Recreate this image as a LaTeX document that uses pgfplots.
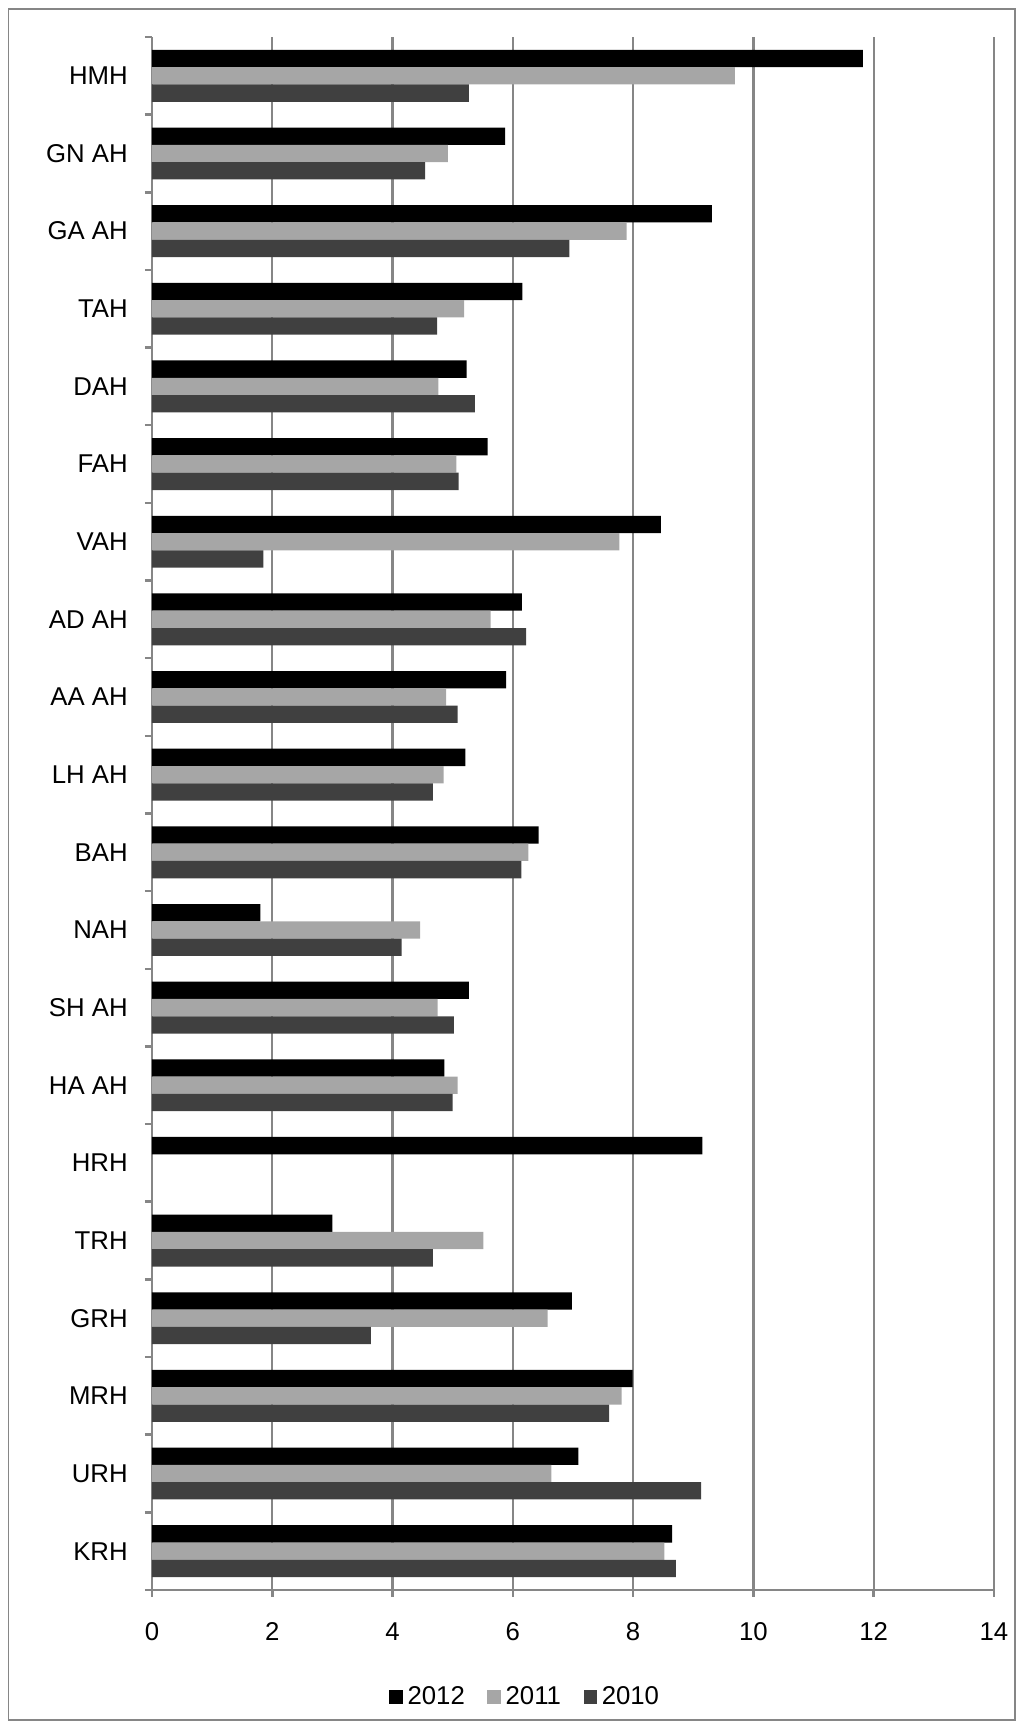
\documentclass[border=0pt]{standalone}
\usepackage{fontspec}
\setmainfont{Liberation Sans}
\usepackage{pgfplots}
\pgfplotsset{compat=1.18}
\definecolor{bar2012}{HTML}{000000}
\definecolor{bar2011}{HTML}{A6A6A6}
\definecolor{bar2010}{HTML}{404040}
\definecolor{gridgray}{HTML}{868686}
\begin{document}
\begin{tikzpicture}
\path[use as bounding box] (0,0) rectangle (409.6pt,691.6pt);
\draw[gridgray, line width=0.6pt] (3.3pt,3.6pt) rectangle (406pt,688pt);
\begin{axis}[
  at={(60.8pt,55.6pt)}, anchor=south west,
  scale only axis, width=336.8pt, height=621.2pt,
  xmin=0, xmax=14, ymin=-0.5, ymax=19.5,
  xtick={0,2,...,14},
  ytick={0,...,19},
  yticklabels={KRH,URH,MRH,GRH,TRH,HRH,HA AH,SH AH,NAH,BAH,LH AH,AA AH,AD AH,VAH,FAH,DAH,TAH,GA AH,GN AH,HMH},
  minor ytick={-0.5,0.5,...,19.5},
  axis lines*=left,
  axis line style={-, draw=gridgray, line width=1pt},
  tick align=outside,
  major tick length=2.8pt, minor tick length=2.8pt,
  major x tick style={draw=gridgray, line width=1pt},
  major y tick style={draw=none},
  minor y tick style={draw=gridgray, line width=1pt},
  xmajorgrids, major x grid style={draw=gridgray, line width=0.9pt},
  /pgf/number format/assume math mode=true,
  tick label style={font=\fontsize{10.3}{12}\selectfont},
  yticklabel style={xshift=-3.4pt},
  xticklabel style={yshift=-6.6pt},
  xbar, bar width=6.92pt,
  legend style={at={(0.445,-0.0689)}, anchor=center, draw=none, fill=none,
    font=\fontsize{10.3}{12}\selectfont, legend columns=3,
    /tikz/every even column/.append style={column sep=7pt},
    inner sep=0pt},
  legend image code/.code={\fill[#1] (0pt,-2.65pt) rectangle (5.3pt,2.65pt);},
]
\addplot[fill=bar2012, draw=none, bar shift=6.92pt] coordinates {
(8.65,0) (7.09,1) (7.99,2) (6.98,3) (3.00,4) (9.15,5) (4.86,6) (5.27,7) (1.80,8) (6.43,9)
(5.21,10) (5.89,11) (6.15,12) (8.46,13) (5.58,14) (5.23,15) (6.16,16) (9.31,17) (5.87,18) (11.82,19)};
\addlegendentry{2012}
\addplot[fill=bar2011, draw=none, bar shift=0pt] coordinates {
(8.52,0) (6.64,1) (7.81,2) (6.58,3) (5.51,4) (5.08,6) (4.75,7) (4.46,8) (6.26,9)
(4.85,10) (4.89,11) (5.63,12) (7.77,13) (5.06,14) (4.76,15) (5.19,16) (7.89,17) (4.92,18) (9.69,19)};
\addlegendentry{2011}
\addplot[fill=bar2010, draw=none, bar shift=-6.92pt] coordinates {
(8.71,0) (9.13,1) (7.60,2) (3.64,3) (4.67,4) (5.00,6) (5.02,7) (4.15,8) (6.14,9)
(4.67,10) (5.08,11) (6.22,12) (1.85,13) (5.10,14) (5.37,15) (4.74,16) (6.94,17) (4.54,18) (5.27,19)};
\addlegendentry{2010}
\end{axis}
\end{tikzpicture}
\end{document}
